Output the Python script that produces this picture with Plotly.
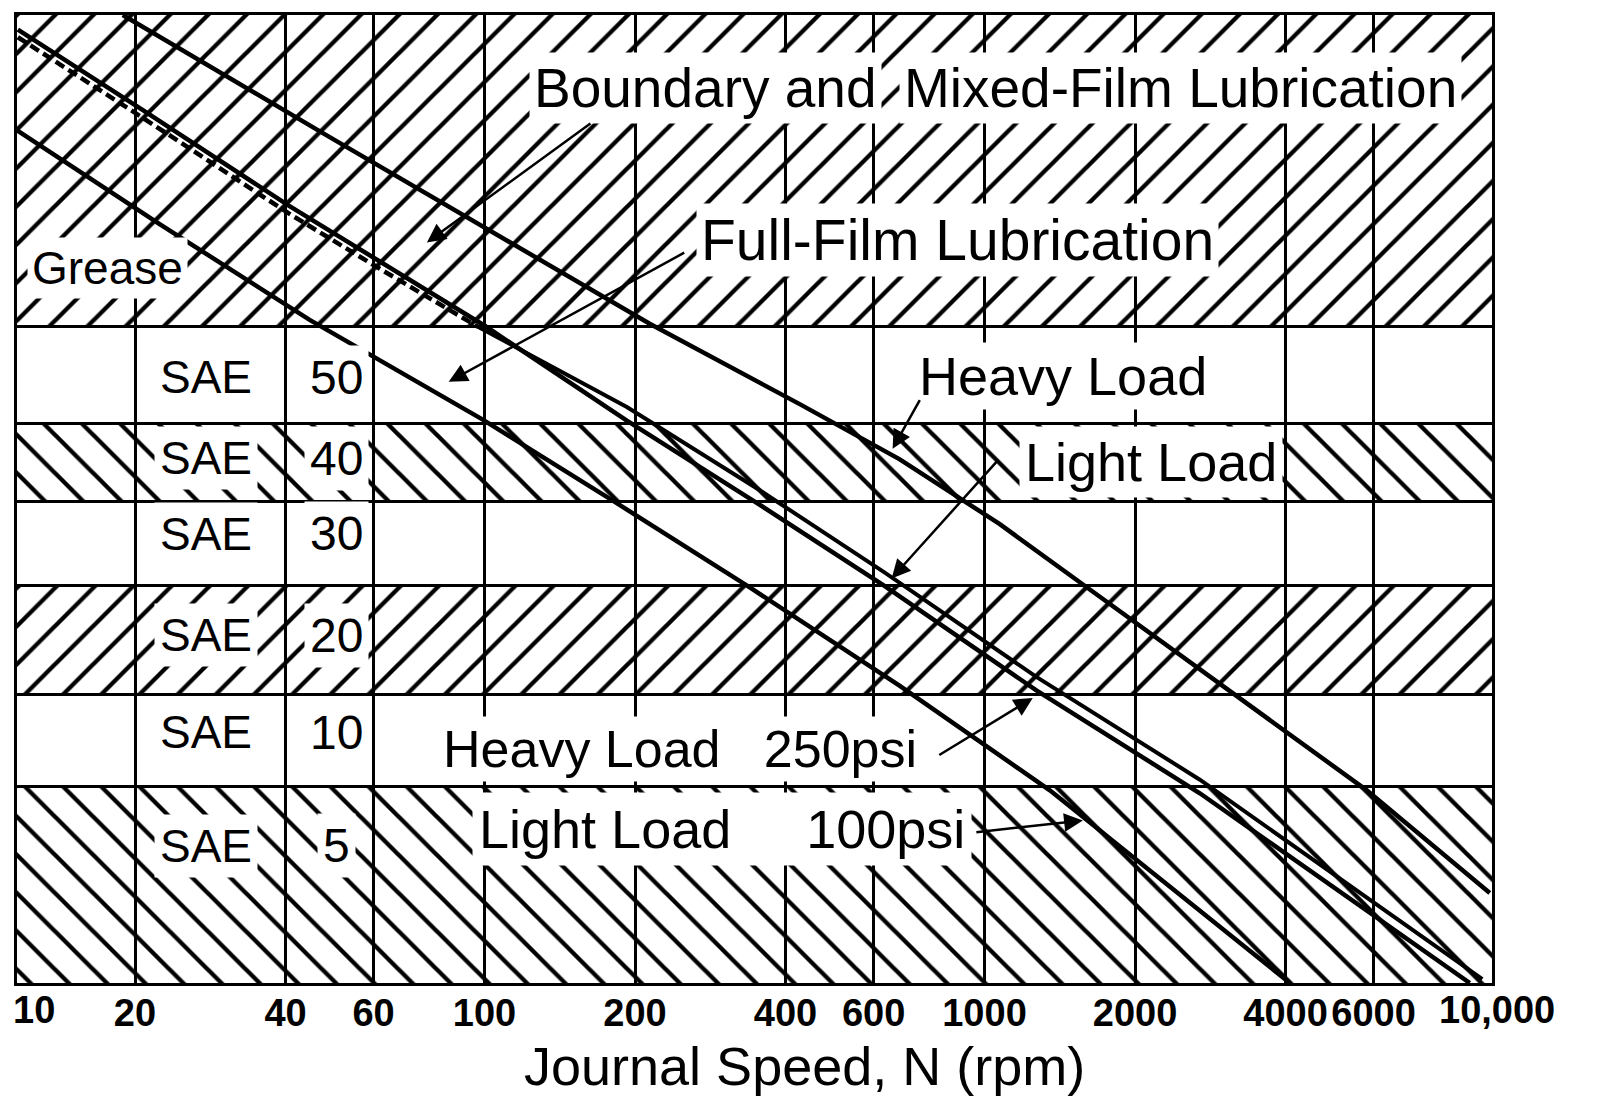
import math
import plotly.graph_objects as go

# ---------------- data ----------------
# journal speed axis (rpm)
speed_ticks = [20, 40, 60, 100, 200, 400, 600, 1000, 2000, 4000, 6000]
speed_tick_text = ["20", "40", "60", "100", "200", "400", "600", "1000", "2000", "4000", "6000"]

# lubricant bands, bottom to top, on a relative vertical scale (0 = bottom, 100 = top)
band_names = ["SAE 5", "SAE 10", "SAE 20", "SAE 30", "SAE 40", "SAE 50", "Grease"]
band_bottom = [0.0, 20.3, 29.8, 41.1, 49.7, 57.8, 67.8]
band_top = [20.3, 29.8, 41.1, 49.7, 57.8, 67.8, 100.0]
band_hatch = ["\\", "", "/", "", "\\", "", "/"]

# transition curves (speed N in rpm, vertical position)
heavy_N = [18.9, 47.5, 214, 427, 677, 1073, 1701, 3138, 5815, 10247]
heavy_v = [100.0, 87.8, 68.1, 59.8, 54.1, 47.4, 39.9, 29.9, 19.9, 9.3]

light_N = [11.66, 20.7, 40.6, 100.1, 192.6, 355.3, 631.8, 1272, 2696, 9346]
light_v = [98.5, 90.2, 80.3, 67.9, 58.1, 49.4, 41.0, 30.2, 19.6, 0.0]

heavy2_dash_N = [11.66, 20.7, 40.6, 61.2, 97]
heavy2_dash_v = [97.7, 89.4, 79.5, 73.9, 67.8]
heavy2_N = [97, 192.6, 355.3, 631.8, 1272, 2696, 9900]
heavy2_v = [67.8, 59.5, 50.9, 42.4, 31.6, 21.0, 0.4]

light2_N = [11.6, 22.4, 44.7, 99.2, 182.2, 336.2, 677.1, 1351, 4080]
light2_v = [88.1, 78.4, 68.5, 58.2, 49.7, 41.0, 30.7, 19.9, 0.0]

# label rows for the SAE grades
sae_numbers = ["50", "40", "30", "20", "10", "5"]
sae_label_v = [62.6, 54.2, 46.4, 35.9, 25.9, 14.2]

FONT = "Liberation Sans, Arial, sans-serif"
X_LO, X_HI = 10, 11000

fig = go.Figure()

# hatched bands
for name, b, t, h in zip(band_names, band_bottom, band_top, band_hatch):
    if not h:
        continue
    fig.add_trace(go.Scatter(
        x=[X_LO, X_HI, X_HI, X_LO, X_LO], y=[b, b, t, t, b],
        mode="lines", line=dict(width=0, color="rgba(0,0,0,0)"),
        fill="toself", fillcolor="rgba(0,0,0,0)",
        fillpattern=dict(shape=h, fgcolor="black", fgopacity=1, bgcolor="rgba(0,0,0,0)",
                         size=27, solidity=0.16),
        hoverinfo="skip", name=name))

curve_style = dict(color="black", width=4.5)
fig.add_trace(go.Scatter(x=heavy_N, y=heavy_v, mode="lines", line=curve_style, name="Heavy load"))
fig.add_trace(go.Scatter(x=light_N, y=light_v, mode="lines", line=curve_style, name="Light load"))
fig.add_trace(go.Scatter(x=heavy2_dash_N, y=heavy2_dash_v, mode="lines",
                         line=dict(color="black", width=4.5, dash="10px,5px"),
                         name="Heavy load 250 psi (dash)"))
fig.add_trace(go.Scatter(x=heavy2_N, y=heavy2_v, mode="lines", line=dict(color="black", width=4),
                         name="Heavy load 250 psi"))
fig.add_trace(go.Scatter(x=light2_N, y=light2_v, mode="lines", line=curve_style, name="Light load 100 psi"))

ann = []

def text_ann(txt, N, v, size, bg=True, xanchor="center", pad=3):
    ann.append(dict(text=txt, x=math.log10(N), y=v, xref="x", yref="y", showarrow=False,
                    xanchor=xanchor, yanchor="middle",
                    font=dict(family=FONT, size=size, color="black"),
                    bgcolor="white" if bg else "rgba(0,0,0,0)", borderpad=pad))

text_ann("Boundary and", 277, 92.5, 55, pad=4)
text_ann("Mixed-Film Lubrication", 2470, 92.5, 55, pad=4)
text_ann("Full-Film Lubrication", 884, 76.8, 57, pad=4)
text_ann("Grease", 17.6, 73.9, 46, pad=4)
for num, v in zip(sae_numbers, sae_label_v):
    text_ann("SAE", 27.7, v, 46, pad=5)
    text_ann(num, 50.5, v, 48, pad=5)
text_ann("Heavy Load", 1438, 62.7, 54)
text_ann("Light Load", 2151, 53.8, 54, pad=5)
text_ann("Heavy Load\u00a0\u00a0\u00a0250psi", 81, 24.2, 52, xanchor="left")
text_ann("Light Load\u00a0\u00a0\u00a0\u00a0\u00a0100psi", 94.3, 15.9, 54, xanchor="left", pad=6)

def arrow_ann(N, v, dx, dy):
    ann.append(dict(text="", x=math.log10(N), y=v, xref="x", yref="y", ax=dx, ay=dy,
                    showarrow=True, arrowhead=2, arrowsize=1.5, arrowwidth=2.5,
                    arrowcolor="black"))

arrow_ann(76.7, 76.5, 165, -120)   # boundary & mixed film
arrow_ann(84.8, 62.1, 237, -130)   # full film
arrow_ann(655, 55.2, 28, -50)      # heavy load (upper)
arrow_ann(652, 41.8, 108, -120)    # light load (upper)
arrow_ann(1249, 29.45, -95, 58)    # heavy load 250 psi
arrow_ann(1573, 16.8, -108, 12)    # light load 100 psi

# axis end labels and title
tick_font = dict(family=FONT, size=38, color="black", weight="bold")
ann.append(dict(text="10", x=0.0, y=-0.028, xref="paper", yref="paper", showarrow=False,
                xanchor="left", yanchor="middle", xshift=-6, font=tick_font))
ann.append(dict(text="10,000", x=1.0034, y=-0.028, xref="paper", yref="paper", showarrow=False,
                xanchor="center", yanchor="middle", font=tick_font))
ann.append(dict(text="Journal Speed, N (rpm)", x=(804 - 17) / 1475, y=-0.0855,
                xref="paper", yref="paper", showarrow=False, xanchor="center", yanchor="middle",
                font=dict(family=FONT, size=54, color="black")))

# page body adds an 8 px offset, so the figure is 8 px smaller and margins shifted
fig.update_layout(
    width=1592, height=1099,
    margin=dict(l=9, r=108, t=4, b=124),
    paper_bgcolor="white", plot_bgcolor="white",
    showlegend=False, annotations=ann,
)
fig.update_xaxes(type="log", range=[1.065, 4.015], tickvals=speed_ticks, ticktext=speed_tick_text,
                 showgrid=True, gridcolor="black", gridwidth=2.5,
                 showline=True, linecolor="black", linewidth=3, mirror=True,
                 ticks="", ticklen=0, tickfont=tick_font, ticklabelstandoff=-6, zeroline=False)
fig.update_yaxes(range=[0, 100], tickvals=band_bottom[1:], showticklabels=False,
                 showgrid=True, gridcolor="black", gridwidth=3,
                 showline=True, linecolor="black", linewidth=3, mirror=True,
                 ticks="", zeroline=False)

fig.write_html("out.html")
